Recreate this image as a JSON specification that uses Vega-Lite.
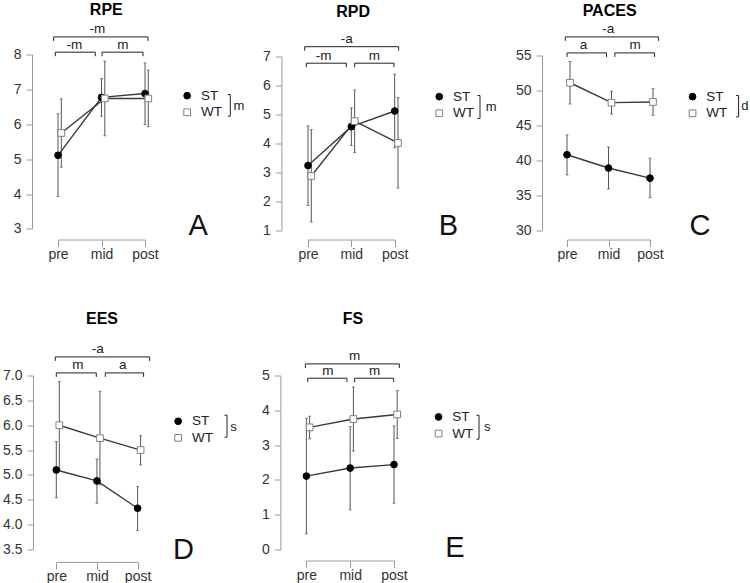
{
"$schema":"https://vega.github.io/schema/vega-lite/v6.json",
"padding":{"left":2,"top":1.5,"right":0,"bottom":0},
"background":"white",
"config":{
 "font":"Liberation Sans",
 "view":{"stroke":null},
 "title":{"fontSize":16,"fontWeight":"bold","color":"#000000","offset":6,"anchor":"middle","frame":"group"},
 "axis":{"domainColor":"#9a9a9a","tickColor":"#9a9a9a","labelColor":"#333333","labelFontSize":14,"labelFont":"Liberation Sans","grid":false,"labelOverlap":false},
 "axisX":{"tickSize":7,"labelPadding":0.5,"labelAngle":0},
 "axisY":{"tickSize":6,"labelPadding":5},
 "text":{"font":"Liberation Sans"}
},
"datasets":{
 "stats":[
  {"panel":"RPE","group":"ST","time":"pre","mean":5.11,"lo":3.93,"hi":6.30},
  {"panel":"RPE","group":"ST","time":"mid","mean":6.77,"lo":6.23,"hi":7.31},
  {"panel":"RPE","group":"ST","time":"post","mean":6.88,"lo":5.99,"hi":7.76},
  {"panel":"RPE","group":"WT","time":"pre","mean":5.75,"lo":4.77,"hi":6.73},
  {"panel":"RPE","group":"WT","time":"mid","mean":6.74,"lo":5.67,"hi":7.81},
  {"panel":"RPE","group":"WT","time":"post","mean":6.74,"lo":5.93,"hi":7.55},
  {"panel":"RPD","group":"ST","time":"pre","mean":3.23,"lo":1.85,"hi":4.60},
  {"panel":"RPD","group":"ST","time":"mid","mean":4.57,"lo":3.92,"hi":5.22},
  {"panel":"RPD","group":"ST","time":"post","mean":5.11,"lo":3.84,"hi":6.38},
  {"panel":"RPD","group":"WT","time":"pre","mean":2.87,"lo":1.28,"hi":4.47},
  {"panel":"RPD","group":"WT","time":"mid","mean":4.76,"lo":3.68,"hi":5.84},
  {"panel":"RPD","group":"WT","time":"post","mean":4.01,"lo":2.45,"hi":5.57},
  {"panel":"PACES","group":"ST","time":"pre","mean":40.8,"lo":37.9,"hi":43.65},
  {"panel":"PACES","group":"ST","time":"mid","mean":38.9,"lo":35.9,"hi":41.9},
  {"panel":"PACES","group":"ST","time":"post","mean":37.45,"lo":34.65,"hi":40.3},
  {"panel":"PACES","group":"WT","time":"pre","mean":51.1,"lo":48.06,"hi":54.14},
  {"panel":"PACES","group":"WT","time":"mid","mean":48.25,"lo":46.62,"hi":49.88},
  {"panel":"PACES","group":"WT","time":"post","mean":48.35,"lo":46.43,"hi":50.26},
  {"panel":"EES","group":"ST","time":"pre","mean":5.10,"lo":4.54,"hi":5.67},
  {"panel":"EES","group":"ST","time":"mid","mean":4.88,"lo":4.43,"hi":5.32},
  {"panel":"EES","group":"ST","time":"post","mean":4.33,"lo":3.88,"hi":4.77},
  {"panel":"EES","group":"WT","time":"pre","mean":6.00,"lo":5.12,"hi":6.88},
  {"panel":"EES","group":"WT","time":"mid","mean":5.74,"lo":4.80,"hi":6.68},
  {"panel":"EES","group":"WT","time":"post","mean":5.50,"lo":5.20,"hi":5.79},
  {"panel":"FS","group":"ST","time":"pre","mean":2.11,"lo":0.45,"hi":3.77},
  {"panel":"FS","group":"ST","time":"mid","mean":2.34,"lo":1.14,"hi":3.53},
  {"panel":"FS","group":"ST","time":"post","mean":2.44,"lo":1.33,"hi":3.55},
  {"panel":"FS","group":"WT","time":"pre","mean":3.51,"lo":3.18,"hi":3.83},
  {"panel":"FS","group":"WT","time":"mid","mean":3.75,"lo":2.83,"hi":4.67},
  {"panel":"FS","group":"WT","time":"post","mean":3.88,"lo":3.19,"hi":4.57}
 ],
 "brackets":[
  {"panel":"RPE","tier":"top","from":"pre","to":"post","label":"-m"},
  {"panel":"RPE","tier":"left","from":"pre","to":"mid","label":"-m"},
  {"panel":"RPE","tier":"right","from":"mid","to":"post","label":"m"},
  {"panel":"RPD","tier":"top","from":"pre","to":"post","label":"-a"},
  {"panel":"RPD","tier":"left","from":"pre","to":"mid","label":"-m"},
  {"panel":"RPD","tier":"right","from":"mid","to":"post","label":"m"},
  {"panel":"PACES","tier":"top","from":"pre","to":"post","label":"-a"},
  {"panel":"PACES","tier":"left","from":"pre","to":"mid","label":"a"},
  {"panel":"PACES","tier":"right","from":"mid","to":"post","label":"m"},
  {"panel":"EES","tier":"top","from":"pre","to":"post","label":"-a"},
  {"panel":"EES","tier":"left","from":"pre","to":"mid","label":"m"},
  {"panel":"EES","tier":"right","from":"mid","to":"post","label":"a"},
  {"panel":"FS","tier":"top","from":"pre","to":"post","label":"m"},
  {"panel":"FS","tier":"left","from":"pre","to":"mid","label":"m"},
  {"panel":"FS","tier":"right","from":"mid","to":"post","label":"m"}
 ],
 "panels":[
  {"panel":"RPE","letter":"A","effect":"m"},
  {"panel":"RPD","letter":"B","effect":"m"},
  {"panel":"PACES","letter":"C","effect":"d"},
  {"panel":"EES","letter":"D","effect":"s"},
  {"panel":"FS","letter":"E","effect":"s"}
 ]
},
"columns":3,
"spacing":{"row":145,"column":100},
"bounds":"flush",
"align":"each",
"resolve":{
 "scale":{"x":"independent","y":"independent","xOffset":"independent","shape":"independent","fill":"independent","stroke":"independent"},
 "legend":{"shape":"independent","fill":"independent","stroke":"independent"}
},
"concat":[
{
 "width":149.6,"height":176,
 "title":{"text":"RPE","dx":-26.5,"offset":4.6},
 "layer":[
  {"data":{"name":"stats"},"transform":[{"filter":"datum.panel==='RPE'"}],
   "mark":{"type":"rule","color":"#555555","strokeWidth":1},
   "encoding":{
    "x":{"field":"time","type":"ordinal","sort":["pre","mid","post"],"scale":{"type":"point","domain":["pre","mid","post"],"range":[0,87],"padding":0},"axis":{"title":null,"offset":9,"labelOverlap":false}},
    "xOffset":{"field":"group","type":"nominal","scale":{"type":"point","domain":["ST","WT"],"range":[0,3.3],"padding":0}},
    "y":{"field":"lo","type":"quantitative","scale":{"domain":[3,8],"range":[174.4,0],"nice":false,"zero":false},"axis":{"title":null,"offset":26,"values":[3,4,5,6,7,8],"tickCount":20,"format":"d","labelOverlap":false,"labelBound":false}},
    "y2":{"field":"hi"}}},
  {"data":{"name":"stats"},"transform":[{"filter":"datum.panel==='RPE'"},{"fold":["lo","hi"],"as":["end","v"]}],
   "mark":{"type":"tick","color":"#555555","thickness":1,"size":3},
   "encoding":{"x":{"field":"time","type":"ordinal","sort":["pre","mid","post"]},"xOffset":{"field":"group","type":"nominal","scale":{"type":"point","domain":["ST","WT"],"range":[0,3.3],"padding":0}},"y":{"field":"v","type":"quantitative"}}},
  {"data":{"name":"stats"},"transform":[{"filter":"datum.panel==='RPE'"}],
   "mark":{"type":"line","color":"#3a3a3a","strokeWidth":1.4},
   "encoding":{"x":{"field":"time","type":"ordinal","sort":["pre","mid","post"]},"xOffset":{"field":"group","type":"nominal","scale":{"type":"point","domain":["ST","WT"],"range":[0,3.3],"padding":0}},"y":{"field":"mean","type":"quantitative"},"detail":{"field":"group"}}},
  {"data":{"name":"stats"},"transform":[{"filter":"datum.panel==='RPE'"}],
   "mark":{"type":"point","filled":true,"size":45,"opacity":1,"strokeWidth":1},
   "encoding":{"x":{"field":"time","type":"ordinal","sort":["pre","mid","post"]},"xOffset":{"field":"group","type":"nominal","scale":{"type":"point","domain":["ST","WT"],"range":[0,3.3],"padding":0}},"y":{"field":"mean","type":"quantitative"},
    "shape":{"field":"group","type":"nominal","scale":{"domain":["ST","WT"],"range":["circle","square"]},"legend":{"title":null,"orient":"none","legendX":122.4,"legendY":34.4,"labelFontSize":13.5,"labelColor":"#222222","symbolSize":45,"labelOffset":7,"rowPadding":1.6,"padding":0,"symbolStrokeWidth":1}},
    "fill":{"field":"group","type":"nominal","scale":{"domain":["ST","WT"],"range":["#000000","#ffffff"]},"legend":{"title":null,"orient":"none","legendX":122.4,"legendY":34.4,"labelFontSize":13.5,"labelColor":"#222222","symbolSize":45,"labelOffset":7,"rowPadding":1.6,"padding":0,"symbolStrokeWidth":1}},
    "stroke":{"field":"group","type":"nominal","scale":{"domain":["ST","WT"],"range":["#000000","#808080"]},"legend":{"title":null,"orient":"none","legendX":122.4,"legendY":34.4,"labelFontSize":13.5,"labelColor":"#222222","symbolSize":45,"labelOffset":7,"rowPadding":1.6,"padding":0,"symbolStrokeWidth":1}}}},
  {"data":{"name":"brackets"},"transform":[{"filter":"datum.panel==='RPE' && datum.tier==='top'"}],
   "mark":{"type":"rect","filled":false,"stroke":"#222222","strokeWidth":1,"xOffset":-4.4,"x2Offset":3,"y2Offset":4,"strokeDash":[98.4,94.4,4]},
   "encoding":{"x":{"field":"from","type":"ordinal"},"x2":{"field":"to"},"y":{"datum":8.504},"y2":{"datum":8.504}}},
  {"data":{"name":"brackets"},"transform":[{"filter":"datum.panel==='RPE' && datum.tier==='left'"}],
   "mark":{"type":"rect","filled":false,"stroke":"#222222","strokeWidth":1,"xOffset":-2.7,"x2Offset":-6.2,"y2Offset":4,"strokeDash":[44,40,4]},
   "encoding":{"x":{"field":"from","type":"ordinal"},"x2":{"field":"to"},"y":{"datum":8.066},"y2":{"datum":8.066}}},
  {"data":{"name":"brackets"},"transform":[{"filter":"datum.panel==='RPE' && datum.tier==='right'"}],
   "mark":{"type":"rect","filled":false,"stroke":"#222222","strokeWidth":1,"xOffset":0.5,"x2Offset":-2,"y2Offset":4,"strokeDash":[45,41,4]},
   "encoding":{"x":{"field":"from","type":"ordinal"},"x2":{"field":"to"},"y":{"datum":8.066},"y2":{"datum":8.066}}},
  {"data":{"name":"brackets"},"transform":[{"filter":"datum.panel==='RPE' && datum.tier==='top'"}],
   "mark":{"type":"text","dx":39.3,"dy":-3.5,"align":"center","baseline":"alphabetic","fontSize":13.5,"color":"#222222"},
   "encoding":{"x":{"field":"from","type":"ordinal"},"y":{"datum":8.504},"text":{"field":"label"}}},
  {"data":{"name":"brackets"},"transform":[{"filter":"datum.panel==='RPE' && datum.tier==='left'"}],
   "mark":{"type":"text","dx":16.5,"dy":-3.5,"align":"center","baseline":"alphabetic","fontSize":13.5,"color":"#222222"},
   "encoding":{"x":{"field":"from","type":"ordinal"},"y":{"datum":8.066},"text":{"field":"label"}}},
  {"data":{"name":"brackets"},"transform":[{"filter":"datum.panel==='RPE' && datum.tier==='right'"}],
   "mark":{"type":"text","dx":21.3,"dy":-3.5,"align":"center","baseline":"alphabetic","fontSize":13.5,"color":"#222222"},
   "encoding":{"x":{"field":"from","type":"ordinal"},"y":{"datum":8.066},"text":{"field":"label"}}},
  {"data":{"name":"panels"},"transform":[{"filter":"datum.panel==='RPE'"}],
   "mark":{"type":"rect","filled":false,"stroke":"#222222","strokeWidth":1,"xOffset":82.8,"x2Offset":85.3,"yOffset":40,"y2Offset":61.7,"strokeDash":[26.7,21.7]},
   "encoding":{"x":{"datum":"post","type":"ordinal"},"x2":{"datum":"post"},"y":{"datum":8},"y2":{"datum":8}}},
  {"data":{"name":"panels"},"transform":[{"filter":"datum.panel==='RPE'"}],
   "mark":{"type":"text","dx":88.6,"dy":55.2,"align":"left","baseline":"alphabetic","fontSize":13,"color":"#222222"},
   "encoding":{"x":{"datum":"post","type":"ordinal"},"y":{"datum":8},"text":{"field":"effect"}}},
  {"data":{"name":"panels"},"transform":[{"filter":"datum.panel==='RPE'"}],
   "mark":{"type":"text","dx":43.6,"dy":5.6,"align":"left","baseline":"alphabetic","fontSize":29,"color":"#111111"},
   "encoding":{"x":{"datum":"post","type":"ordinal"},"y":{"datum":3},"text":{"field":"letter"}}}
 ]
},
{
 "width":158.4,"height":176,
 "title":{"text":"RPD","dx":-34,"offset":12.5},
 "layer":[
  {"data":{"name":"stats"},"transform":[{"filter":"datum.panel==='RPD'"}],
   "mark":{"type":"rule","color":"#555555","strokeWidth":1},
   "encoding":{
    "x":{"field":"time","type":"ordinal","sort":["pre","mid","post"],"scale":{"type":"point","domain":["pre","mid","post"],"range":[0,86.7],"padding":0},"axis":{"title":null,"offset":9,"labelOverlap":false}},
    "xOffset":{"field":"group","type":"nominal","scale":{"type":"point","domain":["ST","WT"],"range":[0,3.3],"padding":0}},
    "y":{"field":"lo","type":"quantitative","scale":{"domain":[1,7],"range":[175.7,1.7],"nice":false,"zero":false},"axis":{"title":null,"offset":26.6,"values":[1,2,3,4,5,6,7],"tickCount":20,"format":"d","labelOverlap":false,"labelBound":false}},
    "y2":{"field":"hi"}}},
  {"data":{"name":"stats"},"transform":[{"filter":"datum.panel==='RPD'"},{"fold":["lo","hi"],"as":["end","v"]}],
   "mark":{"type":"tick","color":"#555555","thickness":1,"size":3},
   "encoding":{"x":{"field":"time","type":"ordinal","sort":["pre","mid","post"]},"xOffset":{"field":"group","type":"nominal","scale":{"type":"point","domain":["ST","WT"],"range":[0,3.3],"padding":0}},"y":{"field":"v","type":"quantitative"}}},
  {"data":{"name":"stats"},"transform":[{"filter":"datum.panel==='RPD'"}],
   "mark":{"type":"line","color":"#3a3a3a","strokeWidth":1.4},
   "encoding":{"x":{"field":"time","type":"ordinal","sort":["pre","mid","post"]},"xOffset":{"field":"group","type":"nominal","scale":{"type":"point","domain":["ST","WT"],"range":[0,3.3],"padding":0}},"y":{"field":"mean","type":"quantitative"},"detail":{"field":"group"}}},
  {"data":{"name":"stats"},"transform":[{"filter":"datum.panel==='RPD'"}],
   "mark":{"type":"point","filled":true,"size":45,"opacity":1,"strokeWidth":1},
   "encoding":{"x":{"field":"time","type":"ordinal","sort":["pre","mid","post"]},"xOffset":{"field":"group","type":"nominal","scale":{"type":"point","domain":["ST","WT"],"range":[0,3.3],"padding":0}},"y":{"field":"mean","type":"quantitative"},
    "shape":{"field":"group","type":"nominal","scale":{"domain":["ST","WT"],"range":["circle","square"]},"legend":{"title":null,"orient":"none","legendX":124.5,"legendY":35.4,"labelFontSize":13.5,"labelColor":"#222222","symbolSize":45,"labelOffset":7,"rowPadding":1.6,"padding":0,"symbolStrokeWidth":1}},
    "fill":{"field":"group","type":"nominal","scale":{"domain":["ST","WT"],"range":["#000000","#ffffff"]},"legend":{"title":null,"orient":"none","legendX":124.5,"legendY":35.4,"labelFontSize":13.5,"labelColor":"#222222","symbolSize":45,"labelOffset":7,"rowPadding":1.6,"padding":0,"symbolStrokeWidth":1}},
    "stroke":{"field":"group","type":"nominal","scale":{"domain":["ST","WT"],"range":["#000000","#808080"]},"legend":{"title":null,"orient":"none","legendX":124.5,"legendY":35.4,"labelFontSize":13.5,"labelColor":"#222222","symbolSize":45,"labelOffset":7,"rowPadding":1.6,"padding":0,"symbolStrokeWidth":1}}}},
  {"data":{"name":"brackets"},"transform":[{"filter":"datum.panel==='RPD' && datum.tier==='top'"}],
   "mark":{"type":"rect","filled":false,"stroke":"#222222","strokeWidth":1,"xOffset":-3.3,"x2Offset":4,"y2Offset":4,"strokeDash":[98,94,4]},
   "encoding":{"x":{"field":"from","type":"ordinal"},"x2":{"field":"to"},"y":{"datum":7.328},"y2":{"datum":7.328}}},
  {"data":{"name":"brackets"},"transform":[{"filter":"datum.panel==='RPD' && datum.tier==='left'"}],
   "mark":{"type":"rect","filled":false,"stroke":"#222222","strokeWidth":1,"xOffset":-1.6,"x2Offset":-5,"y2Offset":4,"strokeDash":[43.95,39.95,4]},
   "encoding":{"x":{"field":"from","type":"ordinal"},"x2":{"field":"to"},"y":{"datum":6.759},"y2":{"datum":6.759}}},
  {"data":{"name":"brackets"},"transform":[{"filter":"datum.panel==='RPD' && datum.tier==='right'"}],
   "mark":{"type":"rect","filled":false,"stroke":"#222222","strokeWidth":1,"xOffset":3.3,"x2Offset":-0.7,"y2Offset":4,"strokeDash":[43.35,39.35,4]},
   "encoding":{"x":{"field":"from","type":"ordinal"},"x2":{"field":"to"},"y":{"datum":6.759},"y2":{"datum":6.759}}},
  {"data":{"name":"brackets"},"transform":[{"filter":"datum.panel==='RPD' && datum.tier==='top'"}],
   "mark":{"type":"text","dx":38.7,"dy":-3.5,"align":"center","baseline":"alphabetic","fontSize":13.5,"color":"#222222"},
   "encoding":{"x":{"field":"from","type":"ordinal"},"y":{"datum":7.328},"text":{"field":"label"}}},
  {"data":{"name":"brackets"},"transform":[{"filter":"datum.panel==='RPD' && datum.tier==='left'"}],
   "mark":{"type":"text","dx":15.7,"dy":-3.5,"align":"center","baseline":"alphabetic","fontSize":13.5,"color":"#222222"},
   "encoding":{"x":{"field":"from","type":"ordinal"},"y":{"datum":6.759},"text":{"field":"label"}}},
  {"data":{"name":"brackets"},"transform":[{"filter":"datum.panel==='RPD' && datum.tier==='right'"}],
   "mark":{"type":"text","dx":23.1,"dy":-3.5,"align":"center","baseline":"alphabetic","fontSize":13.5,"color":"#222222"},
   "encoding":{"x":{"field":"from","type":"ordinal"},"y":{"datum":6.759},"text":{"field":"label"}}},
  {"data":{"name":"panels"},"transform":[{"filter":"datum.panel==='RPD'"}],
   "mark":{"type":"rect","filled":false,"stroke":"#222222","strokeWidth":1,"xOffset":82.8,"x2Offset":85.3,"yOffset":39.3,"y2Offset":62.3,"strokeDash":[28,23]},
   "encoding":{"x":{"datum":"post","type":"ordinal"},"x2":{"datum":"post"},"y":{"datum":7},"y2":{"datum":7}}},
  {"data":{"name":"panels"},"transform":[{"filter":"datum.panel==='RPD'"}],
   "mark":{"type":"text","dx":91,"dy":54.5,"align":"left","baseline":"alphabetic","fontSize":13,"color":"#222222"},
   "encoding":{"x":{"datum":"post","type":"ordinal"},"y":{"datum":7},"text":{"field":"effect"}}},
  {"data":{"name":"panels"},"transform":[{"filter":"datum.panel==='RPD'"}],
   "mark":{"type":"text","dx":44,"dy":4.3,"align":"left","baseline":"alphabetic","fontSize":29,"color":"#111111"},
   "encoding":{"x":{"datum":"post","type":"ordinal"},"y":{"datum":1},"text":{"field":"letter"}}}
 ]
},
{
 "width":83,"height":176,
 "title":{"text":"PACES","dx":1.1,"offset":3.8},
 "layer":[
  {"data":{"name":"stats"},"transform":[{"filter":"datum.panel==='PACES'"}],
   "mark":{"type":"rule","color":"#555555","strokeWidth":1},
   "encoding":{
    "x":{"field":"time","type":"ordinal","sort":["pre","mid","post"],"scale":{"type":"point","domain":["pre","mid","post"],"range":[0,83],"padding":0},"axis":{"title":null,"offset":9,"labelOverlap":false}},
    "xOffset":{"field":"group","type":"nominal","scale":{"type":"point","domain":["ST","WT"],"range":[0,3],"padding":0}},
    "y":{"field":"lo","type":"quantitative","scale":{"domain":[30,55],"range":[175.7,1.0],"nice":false,"zero":false},"axis":{"title":null,"offset":25,"values":[30,35,40,45,50,55],"tickCount":20,"format":"d","labelOverlap":false,"labelBound":false}},
    "y2":{"field":"hi"}}},
  {"data":{"name":"stats"},"transform":[{"filter":"datum.panel==='PACES'"},{"fold":["lo","hi"],"as":["end","v"]}],
   "mark":{"type":"tick","color":"#555555","thickness":1,"size":3},
   "encoding":{"x":{"field":"time","type":"ordinal","sort":["pre","mid","post"]},"xOffset":{"field":"group","type":"nominal","scale":{"type":"point","domain":["ST","WT"],"range":[0,3],"padding":0}},"y":{"field":"v","type":"quantitative"}}},
  {"data":{"name":"stats"},"transform":[{"filter":"datum.panel==='PACES'"}],
   "mark":{"type":"line","color":"#3a3a3a","strokeWidth":1.4},
   "encoding":{"x":{"field":"time","type":"ordinal","sort":["pre","mid","post"]},"xOffset":{"field":"group","type":"nominal","scale":{"type":"point","domain":["ST","WT"],"range":[0,3],"padding":0}},"y":{"field":"mean","type":"quantitative"},"detail":{"field":"group"}}},
  {"data":{"name":"stats"},"transform":[{"filter":"datum.panel==='PACES'"}],
   "mark":{"type":"point","filled":true,"size":45,"opacity":1,"strokeWidth":1},
   "encoding":{"x":{"field":"time","type":"ordinal","sort":["pre","mid","post"]},"xOffset":{"field":"group","type":"nominal","scale":{"type":"point","domain":["ST","WT"],"range":[0,3],"padding":0}},"y":{"field":"mean","type":"quantitative"},
    "shape":{"field":"group","type":"nominal","scale":{"domain":["ST","WT"],"range":["circle","square"]},"legend":{"title":null,"orient":"none","legendX":118.8,"legendY":35.4,"labelFontSize":13.5,"labelColor":"#222222","symbolSize":45,"labelOffset":7,"rowPadding":1.6,"padding":0,"symbolStrokeWidth":1}},
    "fill":{"field":"group","type":"nominal","scale":{"domain":["ST","WT"],"range":["#000000","#ffffff"]},"legend":{"title":null,"orient":"none","legendX":118.8,"legendY":35.4,"labelFontSize":13.5,"labelColor":"#222222","symbolSize":45,"labelOffset":7,"rowPadding":1.6,"padding":0,"symbolStrokeWidth":1}},
    "stroke":{"field":"group","type":"nominal","scale":{"domain":["ST","WT"],"range":["#000000","#808080"]},"legend":{"title":null,"orient":"none","legendX":118.8,"legendY":35.4,"labelFontSize":13.5,"labelColor":"#222222","symbolSize":45,"labelOffset":7,"rowPadding":1.6,"padding":0,"symbolStrokeWidth":1}}}},
  {"data":{"name":"brackets"},"transform":[{"filter":"datum.panel==='PACES' && datum.tier==='top'"}],
   "mark":{"type":"rect","filled":false,"stroke":"#222222","strokeWidth":1,"xOffset":-1.7,"x2Offset":8.6,"y2Offset":4,"strokeDash":[97.3,93.3,4]},
   "encoding":{"x":{"field":"from","type":"ordinal"},"x2":{"field":"to"},"y":{"datum":57.66},"y2":{"datum":57.66}}},
  {"data":{"name":"brackets"},"transform":[{"filter":"datum.panel==='PACES' && datum.tier==='left'"}],
   "mark":{"type":"rect","filled":false,"stroke":"#222222","strokeWidth":1,"xOffset":0,"x2Offset":-2,"y2Offset":4,"strokeDash":[43.5,39.5,4]},
   "encoding":{"x":{"field":"from","type":"ordinal"},"x2":{"field":"to"},"y":{"datum":55.37},"y2":{"datum":55.37}}},
  {"data":{"name":"brackets"},"transform":[{"filter":"datum.panel==='PACES' && datum.tier==='right'"}],
   "mark":{"type":"rect","filled":false,"stroke":"#222222","strokeWidth":1,"xOffset":6.4,"x2Offset":4.6,"y2Offset":4,"strokeDash":[43.7,39.7,4]},
   "encoding":{"x":{"field":"from","type":"ordinal"},"x2":{"field":"to"},"y":{"datum":55.37},"y2":{"datum":55.37}}},
  {"data":{"name":"brackets"},"transform":[{"filter":"datum.panel==='PACES' && datum.tier==='top'"}],
   "mark":{"type":"text","dx":41.3,"dy":-3.5,"align":"center","baseline":"alphabetic","fontSize":13.5,"color":"#222222"},
   "encoding":{"x":{"field":"from","type":"ordinal"},"y":{"datum":57.66},"text":{"field":"label"}}},
  {"data":{"name":"brackets"},"transform":[{"filter":"datum.panel==='PACES' && datum.tier==='left'"}],
   "mark":{"type":"text","dx":16.5,"dy":-3.5,"align":"center","baseline":"alphabetic","fontSize":13.5,"color":"#222222"},
   "encoding":{"x":{"field":"from","type":"ordinal"},"y":{"datum":55.37},"text":{"field":"label"}}},
  {"data":{"name":"brackets"},"transform":[{"filter":"datum.panel==='PACES' && datum.tier==='right'"}],
   "mark":{"type":"text","dx":26.5,"dy":-3.5,"align":"center","baseline":"alphabetic","fontSize":13.5,"color":"#222222"},
   "encoding":{"x":{"field":"from","type":"ordinal"},"y":{"datum":55.37},"text":{"field":"label"}}},
  {"data":{"name":"panels"},"transform":[{"filter":"datum.panel==='PACES'"}],
   "mark":{"type":"rect","filled":false,"stroke":"#222222","strokeWidth":1,"xOffset":86.1,"x2Offset":88.6,"yOffset":40,"y2Offset":61.4,"strokeDash":[26.4,21.4]},
   "encoding":{"x":{"datum":"post","type":"ordinal"},"x2":{"datum":"post"},"y":{"datum":55},"y2":{"datum":55}}},
  {"data":{"name":"panels"},"transform":[{"filter":"datum.panel==='PACES'"}],
   "mark":{"type":"text","dx":91.3,"dy":54,"align":"left","baseline":"alphabetic","fontSize":13,"color":"#222222"},
   "encoding":{"x":{"datum":"post","type":"ordinal"},"y":{"datum":55},"text":{"field":"effect"}}},
  {"data":{"name":"panels"},"transform":[{"filter":"datum.panel==='PACES'"}],
   "mark":{"type":"text","dx":39.5,"dy":4.3,"align":"left","baseline":"alphabetic","fontSize":29,"color":"#111111"},
   "encoding":{"x":{"datum":"post","type":"ordinal"},"y":{"datum":30},"text":{"field":"letter"}}}
 ]
},
{
 "width":149.6,"height":174,
 "title":{"text":"EES","dx":-30.8,"offset":15.8},
 "layer":[
  {"data":{"name":"stats"},"transform":[{"filter":"datum.panel==='EES'"}],
   "mark":{"type":"rule","color":"#555555","strokeWidth":1},
   "encoding":{
    "x":{"field":"time","type":"ordinal","sort":["pre","mid","post"],"scale":{"type":"point","domain":["pre","mid","post"],"range":[-1.7,79.6],"padding":0},"axis":{"title":null,"offset":12.4,"labelOverlap":false}},
    "xOffset":{"field":"group","type":"nominal","scale":{"type":"point","domain":["ST","WT"],"range":[0,3],"padding":0}},
    "y":{"field":"lo","type":"quantitative","scale":{"domain":[3.5,7],"range":[174,0],"nice":false,"zero":false},"axis":{"title":null,"offset":25,"values":[3.5,4,4.5,5,5.5,6,6.5,7],"tickCount":20,"format":".1f","labelOverlap":false,"labelBound":false}},
    "y2":{"field":"hi"}}},
  {"data":{"name":"stats"},"transform":[{"filter":"datum.panel==='EES'"},{"fold":["lo","hi"],"as":["end","v"]}],
   "mark":{"type":"tick","color":"#555555","thickness":1,"size":3},
   "encoding":{"x":{"field":"time","type":"ordinal","sort":["pre","mid","post"]},"xOffset":{"field":"group","type":"nominal","scale":{"type":"point","domain":["ST","WT"],"range":[0,3],"padding":0}},"y":{"field":"v","type":"quantitative"}}},
  {"data":{"name":"stats"},"transform":[{"filter":"datum.panel==='EES'"}],
   "mark":{"type":"line","color":"#3a3a3a","strokeWidth":1.4},
   "encoding":{"x":{"field":"time","type":"ordinal","sort":["pre","mid","post"]},"xOffset":{"field":"group","type":"nominal","scale":{"type":"point","domain":["ST","WT"],"range":[0,3],"padding":0}},"y":{"field":"mean","type":"quantitative"},"detail":{"field":"group"}}},
  {"data":{"name":"stats"},"transform":[{"filter":"datum.panel==='EES'"}],
   "mark":{"type":"point","filled":true,"size":45,"opacity":1,"strokeWidth":1},
   "encoding":{"x":{"field":"time","type":"ordinal","sort":["pre","mid","post"]},"xOffset":{"field":"group","type":"nominal","scale":{"type":"point","domain":["ST","WT"],"range":[0,3],"padding":0}},"y":{"field":"mean","type":"quantitative"},
    "shape":{"field":"group","type":"nominal","scale":{"domain":["ST","WT"],"range":["circle","square"]},"legend":{"title":null,"orient":"none","legendX":113.4,"legendY":39,"labelFontSize":13.5,"labelColor":"#222222","symbolSize":45,"labelOffset":7,"rowPadding":1.6,"padding":0,"symbolStrokeWidth":1}},
    "fill":{"field":"group","type":"nominal","scale":{"domain":["ST","WT"],"range":["#000000","#ffffff"]},"legend":{"title":null,"orient":"none","legendX":113.4,"legendY":39,"labelFontSize":13.5,"labelColor":"#222222","symbolSize":45,"labelOffset":7,"rowPadding":1.6,"padding":0,"symbolStrokeWidth":1}},
    "stroke":{"field":"group","type":"nominal","scale":{"domain":["ST","WT"],"range":["#000000","#808080"]},"legend":{"title":null,"orient":"none","legendX":113.4,"legendY":39,"labelFontSize":13.5,"labelColor":"#222222","symbolSize":45,"labelOffset":7,"rowPadding":1.6,"padding":0,"symbolStrokeWidth":1}}}},
  {"data":{"name":"brackets"},"transform":[{"filter":"datum.panel==='EES' && datum.tier==='top'"}],
   "mark":{"type":"rect","filled":false,"stroke":"#222222","strokeWidth":1,"xOffset":-1,"x2Offset":12,"y2Offset":4,"strokeDash":[98.3,94.3,4]},
   "encoding":{"x":{"field":"from","type":"ordinal"},"x2":{"field":"to"},"y":{"datum":7.374},"y2":{"datum":7.374}}},
  {"data":{"name":"brackets"},"transform":[{"filter":"datum.panel==='EES' && datum.tier==='left'"}],
   "mark":{"type":"rect","filled":false,"stroke":"#222222","strokeWidth":1,"xOffset":0,"x2Offset":-0.65,"y2Offset":4,"strokeDash":[44,40,4]},
   "encoding":{"x":{"field":"from","type":"ordinal"},"x2":{"field":"to"},"y":{"datum":7.052},"y2":{"datum":7.052}}},
  {"data":{"name":"brackets"},"transform":[{"filter":"datum.panel==='EES' && datum.tier==='right'"}],
   "mark":{"type":"rect","filled":false,"stroke":"#222222","strokeWidth":1,"xOffset":8.35,"x2Offset":6,"y2Offset":4,"strokeDash":[42.3,38.3,4]},
   "encoding":{"x":{"field":"from","type":"ordinal"},"x2":{"field":"to"},"y":{"datum":7.052},"y2":{"datum":7.052}}},
  {"data":{"name":"brackets"},"transform":[{"filter":"datum.panel==='EES' && datum.tier==='top'"}],
   "mark":{"type":"text","dx":41.5,"dy":-3.5,"align":"center","baseline":"alphabetic","fontSize":13.5,"color":"#222222"},
   "encoding":{"x":{"field":"from","type":"ordinal"},"y":{"datum":7.374},"text":{"field":"label"}}},
  {"data":{"name":"brackets"},"transform":[{"filter":"datum.panel==='EES' && datum.tier==='left'"}],
   "mark":{"type":"text","dx":21.5,"dy":-3.5,"align":"center","baseline":"alphabetic","fontSize":13.5,"color":"#222222"},
   "encoding":{"x":{"field":"from","type":"ordinal"},"y":{"datum":7.052},"text":{"field":"label"}}},
  {"data":{"name":"brackets"},"transform":[{"filter":"datum.panel==='EES' && datum.tier==='right'"}],
   "mark":{"type":"text","dx":25.85,"dy":-3.5,"align":"center","baseline":"alphabetic","fontSize":13.5,"color":"#222222"},
   "encoding":{"x":{"field":"from","type":"ordinal"},"y":{"datum":7.052},"text":{"field":"label"}}},
  {"data":{"name":"panels"},"transform":[{"filter":"datum.panel==='EES'"}],
   "mark":{"type":"rect","filled":false,"stroke":"#222222","strokeWidth":1,"xOffset":86.9,"x2Offset":89.4,"yOffset":39.7,"y2Offset":61.7,"strokeDash":[27,22]},
   "encoding":{"x":{"datum":"post","type":"ordinal"},"x2":{"datum":"post"},"y":{"datum":7},"y2":{"datum":7}}},
  {"data":{"name":"panels"},"transform":[{"filter":"datum.panel==='EES'"}],
   "mark":{"type":"text","dx":92.7,"dy":55,"align":"left","baseline":"alphabetic","fontSize":13,"color":"#222222"},
   "encoding":{"x":{"datum":"post","type":"ordinal"},"y":{"datum":7},"text":{"field":"effect"}}},
  {"data":{"name":"panels"},"transform":[{"filter":"datum.panel==='EES'"}],
   "mark":{"type":"text","dx":35.5,"dy":9.4,"align":"left","baseline":"alphabetic","fontSize":29,"color":"#111111"},
   "encoding":{"x":{"datum":"post","type":"ordinal"},"y":{"datum":3.5},"text":{"field":"letter"}}}
 ]
},
{
 "width":158.4,"height":174,
 "title":{"text":"FS","dx":-34.3,"offset":22.3},
 "layer":[
  {"data":{"name":"stats"},"transform":[{"filter":"datum.panel==='FS'"}],
   "mark":{"type":"rule","color":"#555555","strokeWidth":1},
   "encoding":{
    "x":{"field":"time","type":"ordinal","sort":["pre","mid","post"],"scale":{"type":"point","domain":["pre","mid","post"],"range":[-1.6,86],"padding":0},"axis":{"title":null,"offset":11,"labelOverlap":false}},
    "xOffset":{"field":"group","type":"nominal","scale":{"type":"point","domain":["ST","WT"],"range":[0,3.2],"padding":0}},
    "y":{"field":"lo","type":"quantitative","scale":{"domain":[0,5],"range":[174,0],"nice":false,"zero":false},"axis":{"title":null,"offset":27.6,"values":[0,1,2,3,4,5],"tickCount":20,"format":"d","labelOverlap":false,"labelBound":false}},
    "y2":{"field":"hi"}}},
  {"data":{"name":"stats"},"transform":[{"filter":"datum.panel==='FS'"},{"fold":["lo","hi"],"as":["end","v"]}],
   "mark":{"type":"tick","color":"#555555","thickness":1,"size":3},
   "encoding":{"x":{"field":"time","type":"ordinal","sort":["pre","mid","post"]},"xOffset":{"field":"group","type":"nominal","scale":{"type":"point","domain":["ST","WT"],"range":[0,3.2],"padding":0}},"y":{"field":"v","type":"quantitative"}}},
  {"data":{"name":"stats"},"transform":[{"filter":"datum.panel==='FS'"}],
   "mark":{"type":"line","color":"#3a3a3a","strokeWidth":1.4},
   "encoding":{"x":{"field":"time","type":"ordinal","sort":["pre","mid","post"]},"xOffset":{"field":"group","type":"nominal","scale":{"type":"point","domain":["ST","WT"],"range":[0,3.2],"padding":0}},"y":{"field":"mean","type":"quantitative"},"detail":{"field":"group"}}},
  {"data":{"name":"stats"},"transform":[{"filter":"datum.panel==='FS'"}],
   "mark":{"type":"point","filled":true,"size":45,"opacity":1,"strokeWidth":1},
   "encoding":{"x":{"field":"time","type":"ordinal","sort":["pre","mid","post"]},"xOffset":{"field":"group","type":"nominal","scale":{"type":"point","domain":["ST","WT"],"range":[0,3.2],"padding":0}},"y":{"field":"mean","type":"quantitative"},
    "shape":{"field":"group","type":"nominal","scale":{"domain":["ST","WT"],"range":["circle","square"]},"legend":{"title":null,"orient":"none","legendX":123.8,"legendY":34.7,"labelFontSize":13.5,"labelColor":"#222222","symbolSize":45,"labelOffset":7,"rowPadding":1.6,"padding":0,"symbolStrokeWidth":1}},
    "fill":{"field":"group","type":"nominal","scale":{"domain":["ST","WT"],"range":["#000000","#ffffff"]},"legend":{"title":null,"orient":"none","legendX":123.8,"legendY":34.7,"labelFontSize":13.5,"labelColor":"#222222","symbolSize":45,"labelOffset":7,"rowPadding":1.6,"padding":0,"symbolStrokeWidth":1}},
    "stroke":{"field":"group","type":"nominal","scale":{"domain":["ST","WT"],"range":["#000000","#808080"]},"legend":{"title":null,"orient":"none","legendX":123.8,"legendY":34.7,"labelFontSize":13.5,"labelColor":"#222222","symbolSize":45,"labelOffset":7,"rowPadding":1.6,"padding":0,"symbolStrokeWidth":1}}}},
  {"data":{"name":"brackets"},"transform":[{"filter":"datum.panel==='FS' && datum.tier==='top'"}],
   "mark":{"type":"rect","filled":false,"stroke":"#222222","strokeWidth":1,"xOffset":-1,"x2Offset":5.4,"y2Offset":4,"strokeDash":[98,94,4]},
   "encoding":{"x":{"field":"from","type":"ordinal"},"x2":{"field":"to"},"y":{"datum":5.333},"y2":{"datum":5.333}}},
  {"data":{"name":"brackets"},"transform":[{"filter":"datum.panel==='FS' && datum.tier==='left'"}],
   "mark":{"type":"rect","filled":false,"stroke":"#222222","strokeWidth":1,"xOffset":1.3,"x2Offset":-3.2,"y2Offset":4,"strokeDash":[43.3,39.3,4]},
   "encoding":{"x":{"field":"from","type":"ordinal"},"x2":{"field":"to"},"y":{"datum":4.922},"y2":{"datum":4.922}}},
  {"data":{"name":"brackets"},"transform":[{"filter":"datum.panel==='FS' && datum.tier==='right'"}],
   "mark":{"type":"rect","filled":false,"stroke":"#222222","strokeWidth":1,"xOffset":4.5,"x2Offset":-0.3,"y2Offset":4,"strokeDash":[43,39,4]},
   "encoding":{"x":{"field":"from","type":"ordinal"},"x2":{"field":"to"},"y":{"datum":4.922},"y2":{"datum":4.922}}},
  {"data":{"name":"brackets"},"transform":[{"filter":"datum.panel==='FS' && datum.tier==='top'"}],
   "mark":{"type":"text","dx":48.1,"dy":-3.5,"align":"center","baseline":"alphabetic","fontSize":13.5,"color":"#222222"},
   "encoding":{"x":{"field":"from","type":"ordinal"},"y":{"datum":5.333},"text":{"field":"label"}}},
  {"data":{"name":"brackets"},"transform":[{"filter":"datum.panel==='FS' && datum.tier==='left'"}],
   "mark":{"type":"text","dx":21.5,"dy":-3.5,"align":"center","baseline":"alphabetic","fontSize":13.5,"color":"#222222"},
   "encoding":{"x":{"field":"from","type":"ordinal"},"y":{"datum":4.922},"text":{"field":"label"}}},
  {"data":{"name":"brackets"},"transform":[{"filter":"datum.panel==='FS' && datum.tier==='right'"}],
   "mark":{"type":"text","dx":24.3,"dy":-3.5,"align":"center","baseline":"alphabetic","fontSize":13.5,"color":"#222222"},
   "encoding":{"x":{"field":"from","type":"ordinal"},"y":{"datum":4.922},"text":{"field":"label"}}},
  {"data":{"name":"panels"},"transform":[{"filter":"datum.panel==='FS'"}],
   "mark":{"type":"rect","filled":false,"stroke":"#222222","strokeWidth":1,"xOffset":82.5,"x2Offset":85,"yOffset":39.7,"y2Offset":63.7,"strokeDash":[29,24]},
   "encoding":{"x":{"datum":"post","type":"ordinal"},"x2":{"datum":"post"},"y":{"datum":5},"y2":{"datum":5}}},
  {"data":{"name":"panels"},"transform":[{"filter":"datum.panel==='FS'"}],
   "mark":{"type":"text","dx":90,"dy":55,"align":"left","baseline":"alphabetic","fontSize":13,"color":"#222222"},
   "encoding":{"x":{"datum":"post","type":"ordinal"},"y":{"datum":5},"text":{"field":"effect"}}},
  {"data":{"name":"panels"},"transform":[{"filter":"datum.panel==='FS'"}],
   "mark":{"type":"text","dx":51.3,"dy":7.7,"align":"left","baseline":"alphabetic","fontSize":29,"color":"#111111"},
   "encoding":{"x":{"datum":"post","type":"ordinal"},"y":{"datum":0},"text":{"field":"letter"}}}
 ]
}
]
}
